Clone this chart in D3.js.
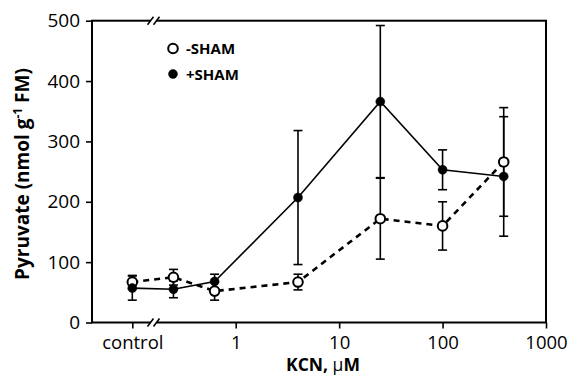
<!DOCTYPE html>
<html><head><meta charset="utf-8">
<script src="https://cdn.jsdelivr.net/npm/d3@7"></script>
<style>body{margin:0;background:#fff}svg{display:block}text{font-family:"Open Sans",sans-serif;fill:#000}</style>
</head><body><svg id="c" width="568" height="376"></svg>
<script>
const doses = ["control", 0.25, 0.625, 4, 25, 100, 390];
const shamMinus = [67, 75, 52, 67, 172, 160, 266];
const shamMinusErr = [11, 13, 15, 13, 67, 40, 90];
const shamPlus = [57, 55, 68, 207, 366, 253, 242];
const shamPlusErr = [20, 14, 12, 111, 126, 33, 99];
const xTicks = ["control", 1, 10, 100, 1000];
const yTicks = [0, 100, 200, 300, 400, 500];
const seriesNames = ["-SHAM", "+SHAM"];

const svg = d3.select("#c");
const L = 92, R = 546, T = 20.7, B = 322.5;
const CONTROL_POS = 0.1;
const x = d3.scaleLog().domain([CONTROL_POS, 1000]).range([132.3, R]);
const y = d3.scaleLinear().domain([0, 500]).range([B, T]);
const xv = d => x(d === "control" ? CONTROL_POS : d);

// frame
svg.append("rect").attr("x", L).attr("y", T).attr("width", R - L).attr("height", B - T)
  .attr("fill", "none").attr("stroke", "#000").attr("stroke-width", 2);

// y axis
const ya = svg.append("g").attr("transform", `translate(${L},0)`)
  .call(d3.axisLeft(y).tickValues(yTicks).tickSize(6).tickPadding(6));
ya.select(".domain").remove();
ya.selectAll("line").attr("stroke-width", 1.6);
ya.selectAll("text").style("font-size", "19px").style("font-family", "'Open Sans',sans-serif");

// x axis
const xa = svg.append("g").attr("transform", `translate(0,${B})`)
  .call(d3.axisBottom(x).tickValues(xTicks.map(d => d === "control" ? CONTROL_POS : d))
    .tickFormat(d => d === CONTROL_POS ? "control" : d).tickSize(6).tickPadding(7));
xa.select(".domain").remove();
xa.selectAll("line").attr("stroke-width", 1.6);
xa.selectAll("text").style("font-size", "18.5px").style("font-family", "'Open Sans',sans-serif");

// axis breaks
[B, T].forEach(yy => {
  const bx = 153.5;
  svg.append("rect").attr("x", bx - 3).attr("y", yy - 3).attr("width", 6).attr("height", 6).attr("fill", "#fff");
  [-3, 3].forEach(o => svg.append("line")
    .attr("x1", bx + o - 3).attr("y1", yy + 4).attr("x2", bx + o + 3).attr("y2", yy - 4)
    .attr("stroke", "#000").attr("stroke-width", 1.6));
});

// series
const series = [
  {vals: shamMinus, err: shamMinusErr, dash: "6,5", lw: 2.6, fill: "#fff", r: 4.8},
  {vals: shamPlus, err: shamPlusErr, dash: null, lw: 1.6, fill: "#000", r: 4.5}
];
const line = d3.line().x((d, i) => xv(doses[i])).y(d => y(d));
series.forEach(s => {
  svg.append("path").datum(s.vals).attr("d", line).attr("fill", "none")
    .attr("stroke", "#000").attr("stroke-width", s.lw).attr("stroke-dasharray", s.dash);
});
series.forEach(s => {
  const g = svg.append("g");
  s.vals.forEach((v, i) => {
    const cx = xv(doses[i]);
    const lo = y(v - s.err[i]), hi = y(v + s.err[i]);
    g.append("line").attr("x1", cx).attr("x2", cx).attr("y1", lo).attr("y2", hi).attr("stroke", "#000").attr("stroke-width", 1.6);
    [lo, hi].forEach(yy => g.append("line").attr("x1", cx - 4.5).attr("x2", cx + 4.5).attr("y1", yy).attr("y2", yy).attr("stroke", "#000").attr("stroke-width", 1.6));
  });
});
series.forEach(s => {
  svg.append("g").selectAll("circle").data(s.vals).join("circle")
    .attr("cx", (d, i) => xv(doses[i])).attr("cy", d => y(d)).attr("r", s.r)
    .attr("fill", s.fill).attr("stroke", "#000").attr("stroke-width", s.fill === "#fff" ? 2 : 0.5);
});

// legend
const lg = svg.append("g");
seriesNames.forEach((n, i) => {
  const yy = 48.5 + i * 25.5;
  lg.append("circle").attr("cx", 173).attr("cy", yy).attr("r", series[i].r)
    .attr("fill", series[i].fill).attr("stroke", "#000").attr("stroke-width", series[i].fill === "#fff" ? 2 : 0.5);
  lg.append("text").attr("x", 186).attr("y", yy + 5.5).style("font-size", "15px").style("font-weight", "bold").text(n);
});

// titles
svg.append("text").attr("x", 323).attr("y", 371).attr("text-anchor", "middle")
  .style("font-size", "17.5px").style("font-weight", "bold")
  .html('KCN, <tspan style="font-weight:normal">µ</tspan>M');
svg.append("text").attr("transform", "translate(29,174) rotate(-90)").attr("text-anchor", "middle")
  .style("font-size", "19px").style("font-weight", "bold")
  .html('Pyruvate (nmol g<tspan dy="-7" style="font-size:12px">-1</tspan><tspan dy="7"> FM)</tspan>');
</script></body></html>
